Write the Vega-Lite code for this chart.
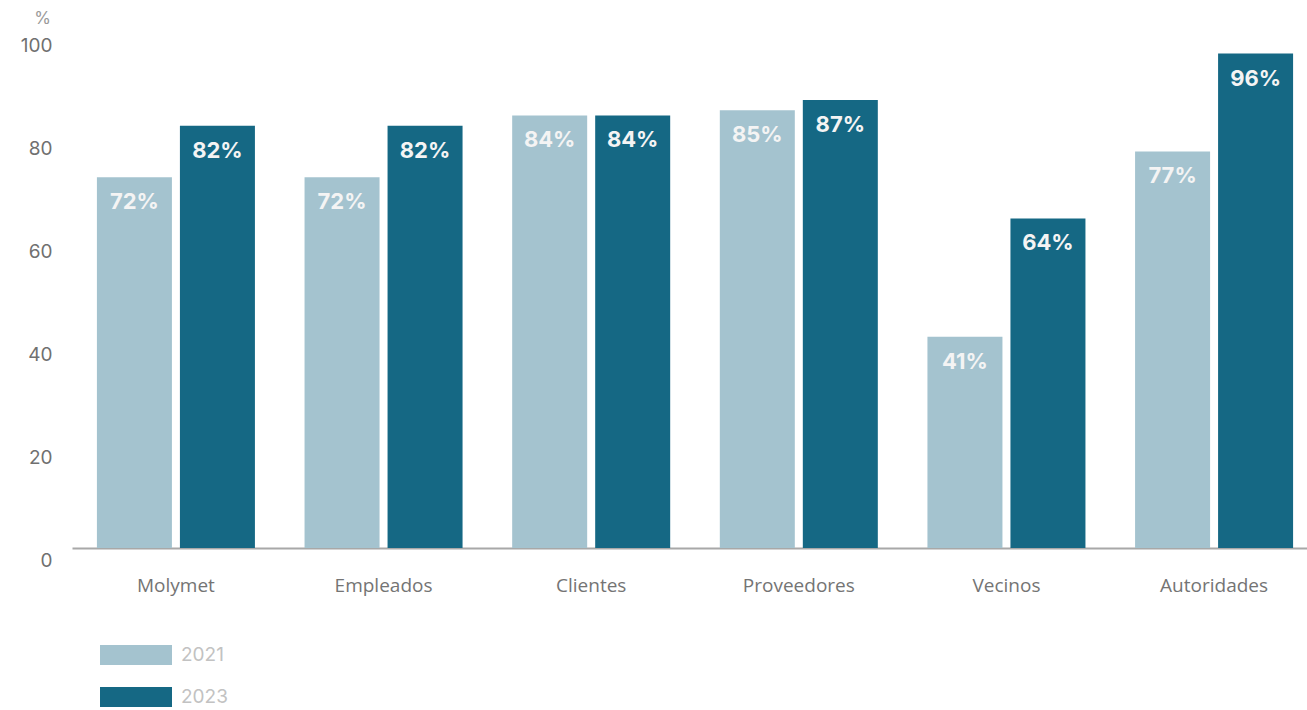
{
  "$schema": "https://vega.github.io/schema/vega-lite/v6.json",
  "autosize": "none",
  "width": 1233,
  "height": 515,
  "padding": {"left": 72, "top": 33, "right": 2, "bottom": 162},
  "background": "white",
  "config": {"view": {"stroke": null}, "font": "Inter"},
  "data": {
    "values": [
      {"grupo": "Molymet", "anio": "2021", "valor": 72, "etiqueta": "72%"},
      {"grupo": "Molymet", "anio": "2023", "valor": 82, "etiqueta": "82%"},
      {"grupo": "Empleados", "anio": "2021", "valor": 72, "etiqueta": "72%"},
      {"grupo": "Empleados", "anio": "2023", "valor": 82, "etiqueta": "82%"},
      {"grupo": "Clientes", "anio": "2021", "valor": 84, "etiqueta": "84%"},
      {"grupo": "Clientes", "anio": "2023", "valor": 84, "etiqueta": "84%"},
      {"grupo": "Proveedores", "anio": "2021", "valor": 85, "etiqueta": "85%"},
      {"grupo": "Proveedores", "anio": "2023", "valor": 87, "etiqueta": "87%"},
      {"grupo": "Vecinos", "anio": "2021", "valor": 41, "etiqueta": "41%"},
      {"grupo": "Vecinos", "anio": "2023", "valor": 64, "etiqueta": "64%"},
      {"grupo": "Autoridades", "anio": "2021", "valor": 77, "etiqueta": "77%"},
      {"grupo": "Autoridades", "anio": "2023", "valor": 96, "etiqueta": "96%"}
    ]
  },
  "encoding": {
    "x": {
      "field": "grupo",
      "type": "nominal",
      "sort": null,
      "scale": {"range": [0, 1246], "paddingInner": 0.239, "paddingOuter": 0.12},
      "axis": {
        "title": null,
        "labelAngle": 0,
        "ticks": false,
        "domainColor": "#a8a8a8",
        "domainWidth": 2,
        "labelFont": "Open Sans",
        "labelFontSize": 19,
        "labelColor": "#747474",
        "labelPadding": 28
      }
    },
    "xOffset": {
      "field": "anio",
      "type": "nominal",
      "scale": {"paddingInner": 0.0964, "paddingOuter": 0}
    },
    "y": {
      "field": "valor",
      "type": "quantitative",
      "scale": {"domain": [0, 100]},
      "axis": {
        "title": "%",
        "titleAngle": 0,
        "titleX": -30,
        "titleY": -15,
        "titleAlign": "center",
        "titleBaseline": "middle",
        "titleFontWeight": "normal",
        "titleFontSize": 17,
        "titleColor": "#9a9a9a",
        "titleFont": "Inter",
        "values": [0, 20, 40, 60, 80, 100],
        "grid": false,
        "ticks": false,
        "domain": false,
        "labelFontSize": 19,
        "labelColor": "#707070",
        "labelPadding": 20,
        "labelBaseline": "top",
        "labelOffset": 3
      }
    }
  },
  "layer": [
    {
      "mark": {"type": "bar"},
      "encoding": {
        "color": {
          "field": "anio",
          "type": "nominal",
          "scale": {"domain": ["2021", "2023"], "range": ["#a4c3cf", "#156884"]},
          "legend": {
            "title": null,
            "orient": "none",
            "legendX": 54,
            "legendY": 612,
            "direction": "vertical",
            "symbolType": "M-3.6,-1H3.6V1H-3.6Z",
            "symbolSize": 400,
            "symbolStrokeWidth": 0,
            "symbolOpacity": 1,
            "labelFontSize": 19,
            "labelColor": "#c2c2c2",
            "labelOffset": 35,
            "rowPadding": 22
          }
        }
      }
    },
    {
      "mark": {
        "type": "text",
        "baseline": "alphabetic",
        "dy": 32,
        "fontSize": 22,
        "fontWeight": "bold",
        "color": "#f4f4f4"
      },
      "encoding": {
        "text": {"field": "etiqueta", "type": "nominal"},
        "detail": {"field": "anio"}
      }
    }
  ]
}
